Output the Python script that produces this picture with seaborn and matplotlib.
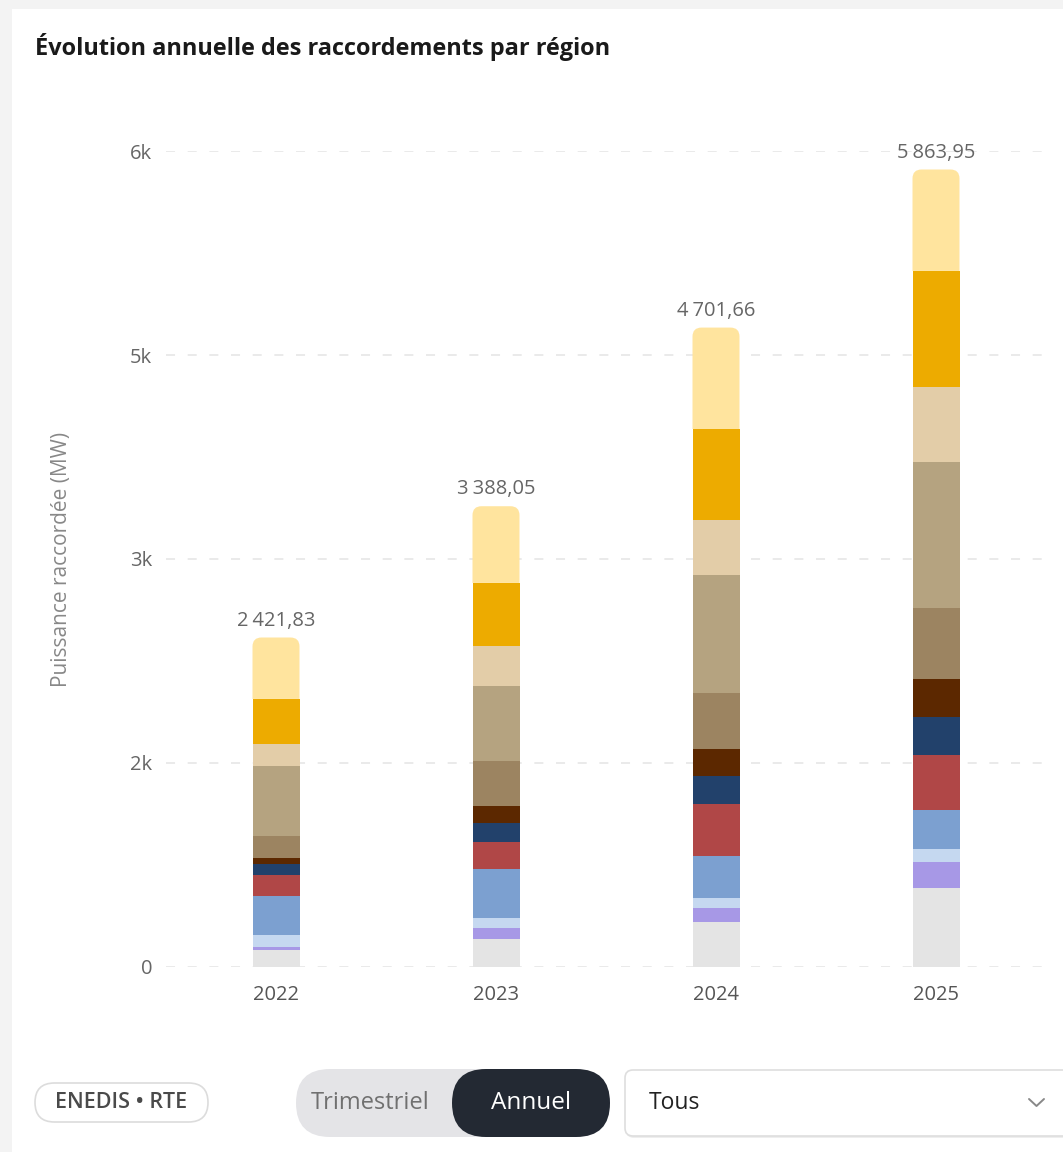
import numpy as np
import pandas as pd
import matplotlib
matplotlib.use("Agg")
import matplotlib.pyplot as plt
import seaborn as sns
from matplotlib.patches import FancyBboxPatch, Rectangle, PathPatch
from matplotlib.path import Path

# ---------------- data ----------------
years = [2022, 2023, 2024, 2025]
totals = [2421.83, 3388.05, 4701.66, 5863.95]

# stack order: top -> bottom
regions = ["Région A", "Région B", "Région C", "Région D", "Région E", "Région F",
           "Région G", "Région H", "Région I", "Région J", "Région K", "Région L"]
region_a = [451.83, 564.05, 745.66, 745.95]
region_b = [331, 463, 669, 853]
region_c = [162, 294, 401, 551]
region_d = [515, 551, 868, 1074]
region_e = [162, 331, 415, 526]
region_f = [44, 125, 199, 279]
region_g = [81, 140, 206, 279]
region_h = [154, 199, 382, 401]
region_i = [287, 360, 305, 287]
region_j = [88, 74, 77, 96]
region_k = [22, 81, 103, 191]
region_l = [125, 206, 331, 581]
series = [region_a, region_b, region_c, region_d, region_e, region_f,
          region_g, region_h, region_i, region_j, region_k, region_l]
colors = ["#FFE49E", "#EDAB00", "#E3CDA8", "#B5A380", "#9C8461", "#5C2800",
          "#22416B", "#B04747", "#7CA0D0", "#C5D8F0", "#A798E6", "#E4E4E4"]

ytick_vals = [0, 1500, 3000, 4500, 6000]
ytick_labels = ["0", "2k", "3k", "5k", "6k"]

rows = []
for reg, vals in zip(regions, series):
    for y, v in zip(years, vals):
        rows.append({"year": y, "region": reg, "value": v})
df = pd.DataFrame(rows)

# ---------------- figure ----------------
W, H = 1063, 1152
sns.set_theme(style="white")
FONT = ["Open Sans", "DejaVu Sans"]
plt.rcParams["font.family"] = FONT

fig = plt.figure(figsize=(W / 100, H / 100), dpi=100)
fig.patch.set_facecolor("#f3f3f3")

# background / UI layer in pixel coordinates
bg = fig.add_axes([0, 0, 1, 1], zorder=-1)
bg.set_xlim(0, W)
bg.set_ylim(H, 0)
bg.axis("off")
bg.add_patch(Rectangle((12, 9), W, H, fc="white", ec="none"))

# chart axes
ax_l, ax_r, ax_t, ax_b = 166, 1046, 151, 967
ax = fig.add_axes([ax_l / W, (H - ax_b) / H, (ax_r - ax_l) / W, (ax_b - ax_t) / H])
ax.patch.set_alpha(0)

palette = dict(zip(regions, colors))
sns.histplot(data=df, x="year", weights="value", hue="region", hue_order=regions,
             multiple="stack", discrete=True, shrink=47 / 220, palette=palette,
             linewidth=0, alpha=1, legend=False, ax=ax)

ax.set_xlim(years[0] - 0.5, years[-1] + 0.5)
ax.set_ylim(0, 6000)
ax.set_xticks(years)
ax.set_xticklabels([str(y) for y in years])
ax.set_yticks(ytick_vals)
ax.set_yticklabels(ytick_labels)
ax.set_xlabel("")
ax.set_ylabel("")
for s in ax.spines.values():
    s.set_visible(False)
ax.tick_params(axis="y", length=0, pad=10, labelsize=14.5, labelcolor="#666666")
ax.tick_params(axis="x", length=0, pad=13, labelsize=14.5, labelcolor="#555555")
ax.set_axisbelow(True)
ax.yaxis.grid(True, color="#e8e8e8", linestyle=(0, (5, 7)), linewidth=1.3)
ax.xaxis.grid(False)

# rounded tops (path built in data units with pixel-equivalent radii)
px_x = 1.0 / 220
px_y = 6000 / 816
rx, ry = 9 * px_x, 9 * px_y
bars = [p for p in ax.patches if p.get_height() > 0]
for y in years:
    cands = [p for p in bars if abs(p.get_x() + p.get_width() / 2 - y) < 0.2]
    top = max(cands, key=lambda p: p.get_y() + p.get_height())
    x0, y0, w, h = top.get_x(), top.get_y(), top.get_width(), top.get_height()
    x1, y1 = x0 + w, y0 + h
    fc = top.get_facecolor()
    top.set_visible(False)
    verts = [(x0, y0), (x0, y1 - ry), (x0, y1), (x0 + rx, y1), (x1 - rx, y1),
             (x1, y1), (x1, y1 - ry), (x1, y0), (x0, y0)]
    codes = [Path.MOVETO, Path.LINETO, Path.CURVE3, Path.CURVE3, Path.LINETO,
             Path.CURVE3, Path.CURVE3, Path.LINETO, Path.CLOSEPOLY]
    ax.add_patch(PathPatch(Path(verts, codes), fc=fc, ec="none", lw=0, zorder=3))

# total labels
def fmt(v):
    s = f"{v:,.2f}"
    return s.replace(",", "\u202f").replace(".", ",")

for y, t in zip(years, totals):
    ax.text(y, t + 17 * px_y, fmt(t), ha="center", va="center", fontsize=14.5,
            color="#666666", clip_on=False, family=FONT)

# title and y label
bg.text(35, 47, "Évolution annuelle des raccordements par région", ha="left", va="center",
        fontsize=16.9, fontweight="bold", color="#1a1a1a")
bg.text(62, 559, "Puissance raccordée (MW)", rotation=90, ha="center", va="center",
        fontsize=15, color="#888888")

# bottom UI
bg.add_patch(FancyBboxPatch((35, 1083), 173, 39, boxstyle="round,pad=0,rounding_size=19.5",
                            fc="white", ec="#dcdcdc", lw=1.2))
bg.text(121.5, 1103, "ENEDIS • RTE", ha="center", va="center", fontsize=15.5,
        fontweight="semibold", color="#4a4a4a")

bg.add_patch(FancyBboxPatch((296, 1069), 314, 68, boxstyle="round,pad=0,rounding_size=34",
                            fc="#e4e4e7", ec="none"))
bg.add_patch(FancyBboxPatch((452, 1069), 158, 68, boxstyle="round,pad=0,rounding_size=34",
                            fc="#232933", ec="none"))
bg.text(370, 1103, "Trimestriel", ha="center", va="center", fontsize=17, color="#707070")
bg.text(531, 1103, "Annuel", ha="center", va="center", fontsize=17.5, color="white")

bg.add_patch(FancyBboxPatch((626, 1072), 460, 66, boxstyle="round,pad=0,rounding_size=8",
                            fc="#eeeeee", ec="none"))
bg.add_patch(FancyBboxPatch((625, 1070), 460, 66, boxstyle="round,pad=0,rounding_size=8",
                            fc="white", ec="#dedede", lw=1.2))
bg.text(649, 1103, "Tous", ha="left", va="center", fontsize=16.5, color="#222222")
bg.plot([1029, 1036.5, 1044], [1099, 1106, 1099], color="#888888", lw=1.4)

fig.savefig("out.png", dpi=100, facecolor=fig.get_facecolor())
